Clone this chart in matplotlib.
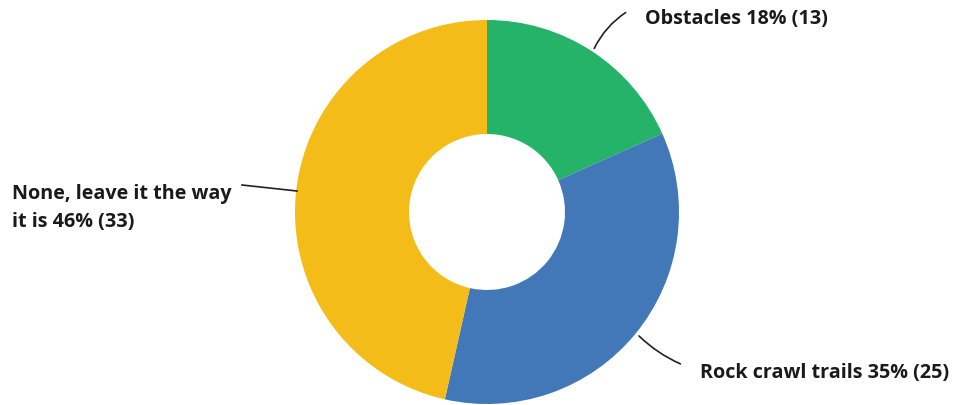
import matplotlib.pyplot as plt

labels = ['Obstacles', 'Rock crawl trails', 'None, leave it the way\nit is']
counts = [13, 25, 33]
colors = ['#25b36a', '#4278b8', '#f4bc19']

W, H = 955, 406
fig = plt.figure(figsize=(W / 100, H / 100), dpi=100)
ax = fig.add_axes([0, 0, 1, 1])

cx, cy = 487, H - 213
r = 192
ax.pie(counts, colors=colors, startangle=90, counterclock=False,
       radius=r, center=(cx, cy), wedgeprops=dict(width=114, edgecolor='none'),
       frame=True)
ax.set_xlim(0, W)
ax.set_ylim(0, H)
ax.set_aspect('auto')
ax.axis('off')

total = sum(counts)
pct = [round(c * 100 / total) for c in counts]
txt = ['%s %d%% (%d)' % (l, p, c) for l, p, c in zip(labels, pct, counts)]

font = dict(fontsize=14.2, fontweight='bold', family='Open Sans', color='#1a1a1a')

# leader lines (pixel coords, y from top)
ax.annotate('', xy=(593, H - 52), xytext=(628, H - 12),
            arrowprops=dict(arrowstyle='-', color='#222222', lw=1.2,
                            connectionstyle='arc3,rad=0.15'))
ax.text(645, H - 19, txt[0], va='center', ha='left', **font)

ax.annotate('', xy=(637, H - 335), xytext=(683, H - 366),
            arrowprops=dict(arrowstyle='-', color='#222222', lw=1.2,
                            connectionstyle='arc3,rad=-0.1'))
ax.text(700, H - 373, txt[1], va='center', ha='left', **font)

ax.plot([242, 297], [H - 186, H - 192], color='#222222', lw=1.2)
ax.text(12, H - 208, txt[2], va='center', ha='left', linespacing=1.5, **font)

fig.savefig('out.png', dpi=100)
